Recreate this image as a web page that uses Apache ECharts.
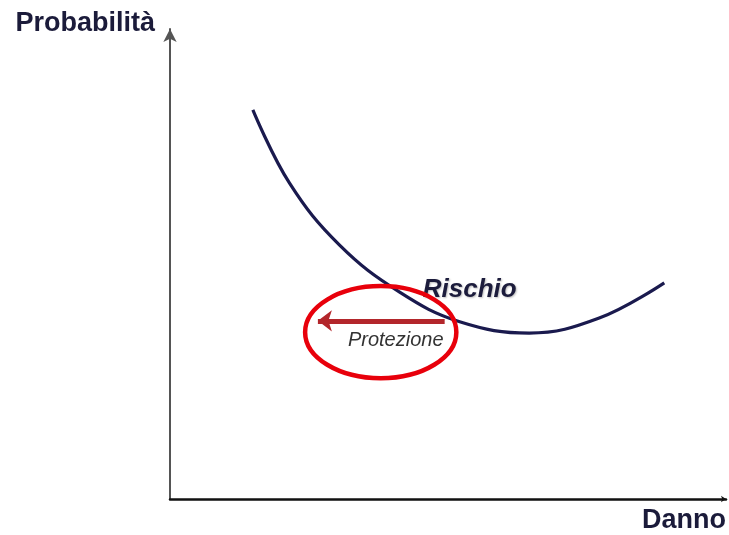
<!DOCTYPE html>
<html>
<head>
<meta charset="utf-8">
<script src="https://cdn.jsdelivr.net/npm/echarts@6/dist/echarts.min.js"></script>
<style>
  html, body { margin: 0; padding: 0; background: #fff; }
  #chart { width: 729px; height: 535px; }
</style>
</head>
<body>
<div id="chart"></div>
<script>
// curva del rischio (danno, probabilità), scala 0-100
var danno = [14.9, 21.5, 30.5, 41.3, 52.1, 64.6, 77.2, 88.9];
var probabilita = [82.8, 67.2, 54.0, 44.0, 37.7, 35.3, 38.5, 46.0];

var nomeAsseX = 'Danno';
var nomeAsseY = 'Probabilità';

// freccia "Protezione": da -> a
var frecciaDa = [49.4, 37.9];
var frecciaA = [26.6, 37.9];
// ellisse rossa: centro e raggi in unità dati
var ellisseCentro = [37.9, 35.5];
var ellisseRaggi = [13.6, 9.8];

var curva = danno.map(function (d, i) { return [d, probabilita[i]]; });

var myChart = echarts.init(document.getElementById('chart'));

var option = {
  backgroundColor: '#fff',
  animation: false,
  grid: { left: 170, right: 2, top: 29, bottom: 36 },
  xAxis: {
    type: 'value',
    min: 0,
    max: 100,
    name: nomeAsseX,
    nameLocation: 'end',
    nameGap: 0,
    nameTextStyle: {
      fontFamily: 'Liberation Sans',
      fontWeight: 'bold',
      fontSize: 27,
      color: '#1b1b3a',
      align: 'right',
      verticalAlign: 'top',
      padding: [8, 0, 0, 0]
    },
    axisLine: {
      show: true,
      symbol: ['none', 'arrow'],
      symbolSize: [5, 5],
      lineStyle: { color: '#111', width: 2.5 }
    },
    axisTick: { show: false },
    axisLabel: { show: false },
    splitLine: { show: false }
  },
  yAxis: {
    type: 'value',
    min: 0,
    max: 100,
    name: nomeAsseY,
    nameLocation: 'end',
    nameGap: 0,
    nameTextStyle: {
      fontFamily: 'Liberation Sans',
      fontWeight: 'bold',
      fontSize: 27,
      color: '#1b1b3a',
      align: 'right',
      verticalAlign: 'bottom',
      padding: [0, 15, -8, 0]
    },
    axisLine: {
      show: true,
      symbol: ['none', 'arrow'],
      symbolSize: [10, 13],
      lineStyle: { color: '#555', width: 2 }
    },
    axisTick: { show: false },
    axisLabel: { show: false },
    splitLine: { show: false }
  },
  series: [{
    name: 'Rischio',
    type: 'line',
    data: curva,
    smooth: 0.4,
    showSymbol: false,
    lineStyle: { color: '#1a1a4e', width: 3.2 },
    markPoint: {
      symbol: 'circle',
      symbolSize: 0,
      data: [
        {
          coord: [53.9, 44.5],
          label: {
            show: true,
            formatter: 'Rischio',
            fontFamily: 'Liberation Sans',
            fontWeight: 'bold',
            fontStyle: 'italic',
            fontSize: 26,
            color: '#1c1c3c',
            textShadowColor: 'rgba(0,0,0,0.25)',
            textShadowBlur: 2,
            textShadowOffsetX: 1,
            textShadowOffsetY: 1
          }
        },
        {
          coord: [40.6, 33.8],
          label: {
            show: true,
            formatter: 'Protezione',
            fontFamily: 'Liberation Sans',
            fontStyle: 'italic',
            fontSize: 20,
            color: '#333'
          }
        }
      ]
    },
    markLine: {
      silent: true,
      symbol: ['none', 'arrow'],
      symbolSize: [16, 14],
      label: { show: false },
      lineStyle: { color: '#b3262b', width: 5, type: 'solid' },
      data: [[{ coord: frecciaDa }, { coord: frecciaA }]]
    }
  }]
};

myChart.setOption(option);

// ellisse rossa intorno alla freccia
var c = myChart.convertToPixel({ gridIndex: 0 }, ellisseCentro);
var e = myChart.convertToPixel({ gridIndex: 0 }, [ellisseCentro[0] + ellisseRaggi[0], ellisseCentro[1] + ellisseRaggi[1]]);
myChart.setOption({
  graphic: [{
    type: 'ellipse',
    shape: { cx: c[0], cy: c[1], rx: Math.abs(e[0] - c[0]), ry: Math.abs(e[1] - c[1]) },
    style: { fill: 'none', stroke: '#e8000b', lineWidth: 4.5 },
    z: 10
  }]
});
</script>
</body>
</html>
